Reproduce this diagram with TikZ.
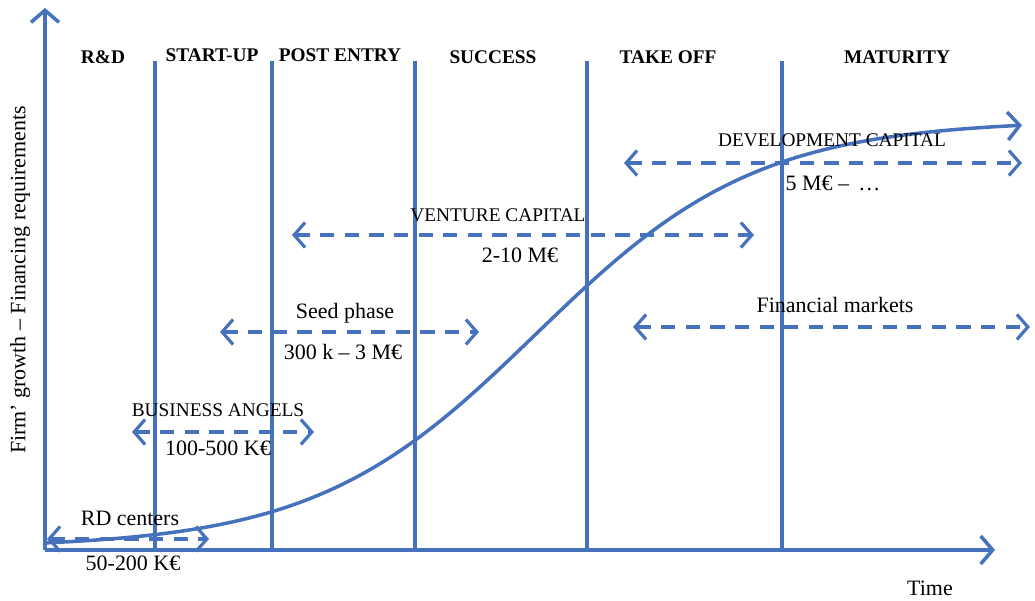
\documentclass[tikz,border=0pt]{standalone}
\usepackage{fontspec}
\setmainfont{Liberation Serif}
\usetikzlibrary{arrows.meta}
\definecolor{lineblue}{RGB}{70,114,189}
\tikzstyle{axis}=[draw=lineblue, line width=2pt, -{Straight Barb[length=2.4mm,width=5.6mm]}]
\tikzstyle{phase}=[draw=lineblue, line width=2pt]
\tikzstyle{fundrange}=[draw=lineblue, line width=1.8pt, dash pattern=on 8pt off 6pt, {Straight Barb[length=2.2mm,width=5mm]}-{Straight Barb[length=2.2mm,width=5mm]}]
\tikzstyle{stage}=[font=\fontsize{11}{13}\selectfont\bfseries, inner sep=0]
\tikzstyle{fund}=[font=\fontsize{12.5}{14}\selectfont, inner sep=0]
\tikzstyle{fundcaps}=[font=\fontsize{11}{13}\selectfont, inner sep=0]

\begin{document}
\begin{tikzpicture}[x=0.02cm, y=-0.02cm]
    \useasboundingbox (0,0) rectangle (1035,601);

    % axes
    \coordinate (origin) at (45,550);
    \coordinate (ytop) at (45,8);
    \coordinate (xend) at (995,550);
    \draw[axis] (origin) -- (ytop);
    \draw[axis] (origin) -- (xend);
    \path (20,280) node[rotate=90, fund] (ylab) {Firm’ growth – Financing requirements}
    (930,588) node[fund] (time) {Time};

    % phase boundaries
    \foreach \x/\n in {155/a, 272/b, 415/c, 587/d, 782/e} {
        \coordinate (top\n) at (\x,61);
        \coordinate (bot\n) at (\x,550);
        \draw[phase] (top\n) -- (bot\n);
    }

    \path
    (103,57) node[stage] (rd) {R\&D}
    (212,55) node[stage] (startup) {START-UP}
    (340,55) node[stage] (postentry) {POST ENTRY}
    (493,57) node[stage] (success) {SUCCESS}
    (668,57) node[stage] (takeoff) {TAKE OFF}
    (897,57) node[stage] (maturity) {MATURITY};

    % growth curve (logistic)
    \draw[axis] plot[domain=47:1022, samples=90, smooth] (\x, {548-428/(1+exp(-(\x-536)/111))});

    % funding ranges
    \coordinate (rdL) at (47,539);
    \coordinate (rdR) at (209,539);
    \coordinate (baL) at (132,432);
    \coordinate (baR) at (314,432);
    \coordinate (seedL) at (220,332);
    \coordinate (seedR) at (479,332);
    \coordinate (vcL) at (292,235);
    \coordinate (vcR) at (754,235);
    \coordinate (dcL) at (624,163);
    \coordinate (dcR) at (1022,163);
    \coordinate (fmL) at (633,327);
    \coordinate (fmR) at (1030,327);
    \draw[fundrange] (rdL) -- (rdR);
    \draw[fundrange] (baL) -- (baR);
    \draw[fundrange] (seedL) -- (seedR);
    \draw[fundrange] (vcL) -- (vcR);
    \draw[fundrange] (dcL) -- (dcR);
    \draw[fundrange] (fmL) -- (fmR);

    \path
    (130,518) node[fund] (rdtop) {RD centers}
    (133,563) node[fund] (rdbot) {50-200 K€}
    (218,410) node[fundcaps] (batop) {BUSINESS ANGELS}
    (218,448) node[fund] (babot) {100-500 K€}
    (345,313) node[fund] (seedtop) {Seed phase}
    (343,352) node[fund] (seedbot) {300 k – 3 M€}
    (498,215) node[fundcaps] (vctop) {VENTURE CAPITAL}
    (520,255) node[fund] (vcbot) {2-10 M€}
    (832,140) node[fundcaps] (dctop) {DEVELOPMENT CAPITAL}
    (833,183) node[fund] (dcbot) {5 M€ –\, …}
    (835,305) node[fund] (fmtop) {Financial markets};
\end{tikzpicture}
\end{document}
